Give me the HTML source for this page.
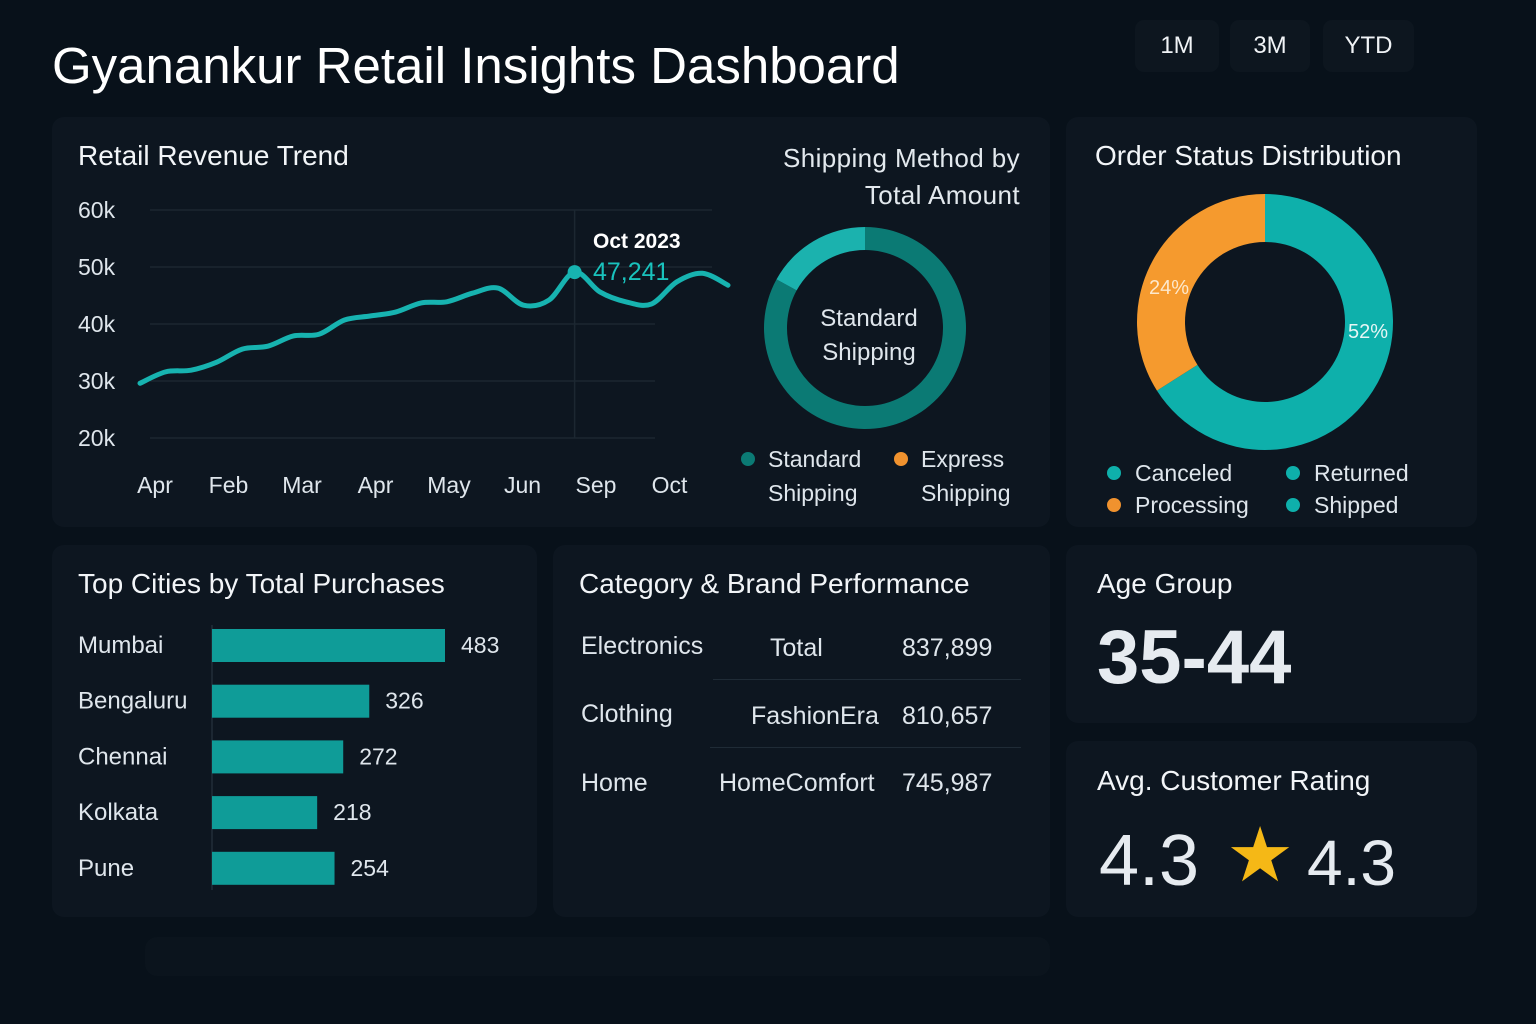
<!DOCTYPE html>
<html><head><meta charset="utf-8"><style>
body{margin:0;width:1536px;height:1024px;background:#08111a;font-family:"Liberation Sans",sans-serif;color:#e8edf2;position:relative;overflow:hidden}
.a{position:absolute}
.card{position:absolute;background:#0d1620;border-radius:12px}
.btn{position:absolute;top:20px;height:52px;background:#0d161f;border-radius:9px;font-size:24px;line-height:52px;text-align:center;color:#f0f3f6}
.t{position:absolute;font-size:28px;color:#f2f5f8}
.lbl{position:absolute;font-size:23px;color:#dfe6ec}
</style></head><body>
<div class="a" style="left:52px;top:36px;font-size:51px;color:#fff">Gyanankur Retail Insights Dashboard</div>
<div class="btn" style="left:1135px;width:84px">1M</div>
<div class="btn" style="left:1230px;width:80px">3M</div>
<div class="btn" style="left:1323px;width:91px">YTD</div>

<div class="card" style="left:52px;top:117px;width:998px;height:410px"></div>
<div class="card" style="left:1066px;top:117px;width:411px;height:410px"></div>
<div class="card" style="left:52px;top:545px;width:485px;height:372px"></div>
<div class="card" style="left:553px;top:545px;width:497px;height:372px"></div>
<div class="card" style="left:1066px;top:545px;width:411px;height:178px"></div>
<div class="card" style="left:1066px;top:741px;width:411px;height:176px"></div>
<div class="card" style="left:145px;top:937px;width:905px;height:39px;background:#0b141d"></div>

<div class="t" style="left:78px;top:140px">Retail Revenue Trend</div>
<div class="t" style="left:700px;top:140px;width:320px;text-align:right;font-size:26px;line-height:37px;color:#e3e9ee;letter-spacing:0.4px">Shipping Method by<br>Total Amount</div>
<div class="t" style="left:1095px;top:140px">Order Status Distribution</div>
<div class="t" style="left:78px;top:568px">Top Cities by Total Purchases</div>
<div class="t" style="left:579px;top:568px">Category &amp; Brand Performance</div>
<div class="t" style="left:1097px;top:568px">Age Group</div>
<div class="a" style="left:1097px;top:614px;font-size:76px;font-weight:bold;color:#e6ebf0">35-44</div>
<div class="t" style="left:1097px;top:765px">Avg. Customer Rating</div>
<div class="a" style="left:1099px;top:820px;font-size:72px;color:#e6ebf0">4.3</div>
<div class="a" style="left:1226px;top:818px;font-size:76px;color:#f5b816;line-height:1">★</div>
<div class="a" style="left:1307px;top:826px;font-size:64px;color:#e6ebf0">4.3</div>

<div class="lbl" style="left:581px;top:632px;font-size:25px">Electronics</div>
<div class="lbl" style="left:770px;top:634px;font-size:25px">Total</div>
<div class="lbl" style="left:902px;top:634px;font-size:25px">837,899</div>
<div class="a" style="left:713px;top:679px;width:308px;height:1px;background:#1f2b36"></div>
<div class="lbl" style="left:581px;top:700px;font-size:25px">Clothing</div>
<div class="lbl" style="left:751px;top:702px;font-size:25px">FashionEra</div>
<div class="lbl" style="left:902px;top:702px;font-size:25px">810,657</div>
<div class="a" style="left:710px;top:747px;width:311px;height:1px;background:#1f2b36"></div>
<div class="lbl" style="left:581px;top:769px;font-size:25px">Home</div>
<div class="lbl" style="left:719px;top:769px;font-size:25px">HomeComfort</div>
<div class="lbl" style="left:902px;top:769px;font-size:25px">745,987</div>

<svg class="a" style="left:0;top:0" width="1536" height="1024" id="svg"></svg>
<script>
const months=["Apr","Feb","Mar","Apr","May","Jun","Sep","Oct"];
const yTicks=[60,50,40,30,20];
const revenue=[29.6,31.6,31.9,33.3,35.6,36.1,37.9,38.2,40.7,41.4,42.1,43.7,43.9,45.4,46.3,43.3,44.2,49.1,45.6,43.9,43.5,47.4,48.9,46.8];
const peakIndex=17;
const shipLabels=["Standard Shipping","Express Shipping"];
const shipValues=[83,17];
const statusLabels=["Shipped","Processing"];
const statusValues=[66,34];
const statusPrinted=["52%","24%"];
const cities=["Mumbai","Bengaluru","Chennai","Kolkata","Pune"];
const purchases=[483,326,272,218,254];

const NS="http://www.w3.org/2000/svg";
const svg=document.getElementById('svg');
function mk(tag,attrs,parent){const e=document.createElementNS(NS,tag);for(const k in attrs)e.setAttribute(k,attrs[k]);(parent||svg).appendChild(e);return e;}
function txt(s,attrs){const e=mk('text',Object.assign({fill:"#dfe6ec","font-size":23,"font-family":"Liberation Sans, sans-serif"},attrs));e.textContent=s;return e;}

const x0=140,x1=728;
const yS=v=>210+(60-v)*5.7;
const xS=i=>x0+i*(x1-x0)/(revenue.length-1);
yTicks.forEach(v=>{
  const l=mk('line',{x1:150,x2:v>=50?712:655,y1:yS(v),y2:yS(v),stroke:"#1c2731","stroke-width":1.5});
  
  
  const t=txt(v+"k",{x:78,y:yS(v)+8});
  
  
});
months.forEach((m,i)=>{
  const t=txt(m,{x:155+i*73.5,y:493,"text-anchor":"middle"});
  
  
});
const px=xS(peakIndex);
const vl=mk('line',{x1:px,x2:px,y1:210,y2:438,stroke:"#1c2731","stroke-width":1.5});


let pts=revenue.map((v,i)=>[xS(i),yS(v)]);
let d="M"+pts[0];
for(let i=0;i<pts.length-1;i++){const p0=pts[Math.max(0,i-1)],p1=pts[i],p2=pts[i+1],p3=pts[Math.min(pts.length-1,i+2)];
 d+=` C${p1[0]+(p2[0]-p0[0])/6},${p1[1]+(p2[1]-p0[1])/6} ${p2[0]-(p3[0]-p1[0])/6},${p2[1]-(p3[1]-p1[1])/6} ${p2[0]},${p2[1]}`;}
const line=mk('path',{d:d,fill:"none",stroke:"#17b3b0","stroke-width":5,"stroke-linecap":"round"});


const pk=mk('circle',{cx:px,cy:yS(revenue[peakIndex]),r:7,fill:"#17b3b0"});


const tt1=txt("Oct 2023",{x:593,y:248,"font-weight":"bold",fill:"#fff","font-size":21});


const tt2=txt(Math.round(47241).toLocaleString('en-US'),{x:593,y:280,fill:"#19c2bd","font-size":25});



function arc(cx,cy,ro,ri,a0,a1){const p=(r,a)=>[cx+r*Math.sin(a),cy-r*Math.cos(a)];const lg=(a1-a0)>Math.PI?1:0;
 const A=p(ro,a0),B=p(ro,a1),C=p(ri,a1),D=p(ri,a0);
 return `M${A} A${ro},${ro} 0 ${lg} 1 ${B} L${C} A${ri},${ri} 0 ${lg} 0 ${D} Z`;}
const shipColors=["#0b7a74","#1bb2ae"];
let tot=shipValues.reduce((a,b)=>a+b,0),a=0;
shipValues.forEach((v,i)=>{const s=a;a+=v/tot*2*Math.PI;
  const e=mk('path',{d:arc(865,328,101,78,s,a),fill:shipColors[i]});
  
  });
const c1=txt("Standard",{x:869,y:326,"text-anchor":"middle","font-size":24});


const c2=txt("Shipping",{x:869,y:360,"text-anchor":"middle","font-size":24});


const legC=["#0b7a74","#f0922e"];
shipLabels.forEach((l,i)=>{const x=i?901:748;
  const dot=mk('circle',{cx:x,cy:459,r:7,fill:legC[i]});
  
  
  const w=l.split(" ");
  const t1=txt(w[0],{x:x+20,y:467});
  
  
  const t2=txt(w[1],{x:x+20,y:501});
  
  
});
const stColors=["#0eb0ab","#f59a2e"];
tot=statusValues.reduce((a,b)=>a+b,0);a=0;
statusValues.forEach((v,i)=>{const s=a;a+=v/tot*2*Math.PI;
  const e=mk('path',{d:arc(1265,322,128,80,s,a),fill:stColors[i]});
  
  });
const p1=txt(statusPrinted[0],{x:1348,y:338,"font-size":20,fill:"#e6f6f5"});


const p2=txt(statusPrinted[1],{x:1149,y:294,"font-size":20,fill:"#fde8cc"});


[["Canceled",1114,473,"#0eb0ab"],["Returned",1293,473,"#0eb0ab"],["Processing",1114,505,"#f0922e"],["Shipped",1293,505,"#0eb0ab"]].forEach(r=>{
  const dot=mk('circle',{cx:r[1],cy:r[2],r:7,fill:r[3]});
  
  
  const t=txt(r[0],{x:r[1]+21,y:r[2]+8});
  
  
});
const bx=212,bScale=233/483;
const ax=mk('line',{x1:bx,x2:bx,y1:625,y2:890,stroke:"#2a3844","stroke-width":1});


cities.forEach((c,i)=>{const y=629+i*55.7,w=purchases[i]*bScale;
  const t=txt(c,{x:78,y:y+24,"font-size":24});
  
  
  const r=mk('rect',{x:bx,y:y,width:w,height:33,fill:"#0f9c98"});
  
  
  const v=txt(String(purchases[i]),{x:bx+w+16,y:y+24,"font-size":23});
  
  
});
</script>
</body></html>
